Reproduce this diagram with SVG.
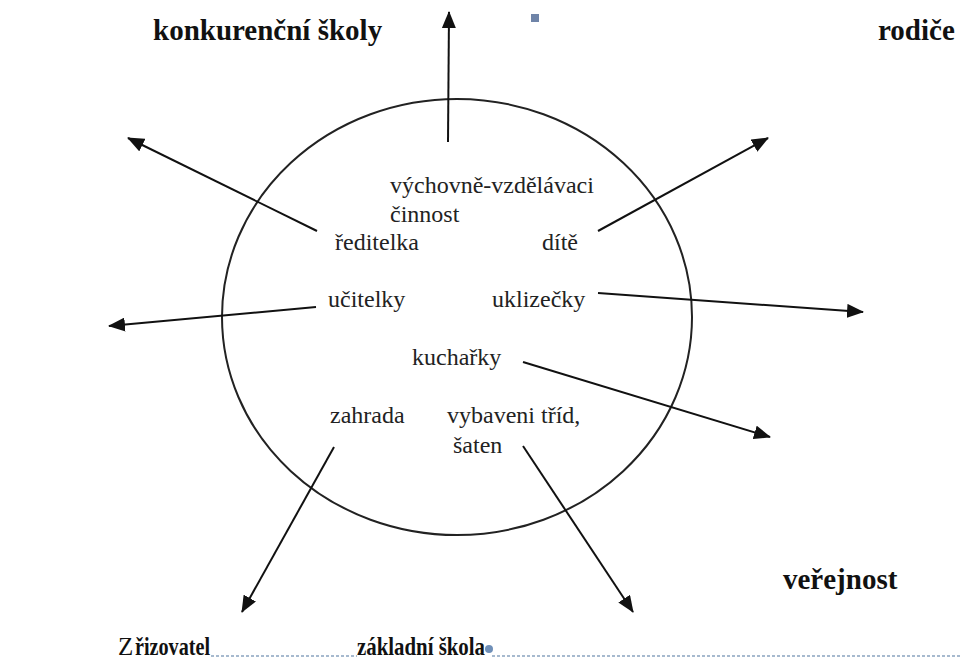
<svg xmlns="http://www.w3.org/2000/svg" width="960" height="659" viewBox="0 0 960 659">
<style>
.bold{font-family:"Liberation Serif","Times New Roman",serif;font-weight:bold;font-size:29px;fill:#111}
.bot{font-family:"Liberation Serif","Times New Roman",serif;font-weight:bold;font-size:25px;fill:#111}
.in{font-family:"Liberation Serif","Times New Roman",serif;font-size:24px;fill:#222}
.conn line{stroke:#111;stroke-width:2;marker-end:url(#ah)}
</style>
<defs>
<marker id="ah" markerWidth="17" markerHeight="14" refX="16" refY="7" orient="auto" markerUnits="userSpaceOnUse" viewBox="0 0 17 14">
<path d="M0,0 L17,7 L0,14 Z" fill="#111"/>
</marker>
</defs>
<rect width="960" height="659" fill="#fff"/>
<g id="circle"><ellipse cx="457" cy="317" rx="235" ry="218" fill="none" stroke="#222" stroke-width="2"/></g>
<g class="conn" id="connectors">
<line x1="448" y1="142" x2="449" y2="12"/>
<line x1="317" y1="231" x2="128" y2="138"/>
<line x1="316" y1="307" x2="109" y2="326"/>
<line x1="598" y1="231" x2="768" y2="138"/>
<line x1="598" y1="293" x2="863" y2="312"/>
<line x1="523" y1="362" x2="770" y2="437"/>
<line x1="334" y1="447" x2="242" y2="612"/>
<line x1="523" y1="446" x2="633" y2="612"/>
</g>
<g id="n-konkurencni"><text class="bold" x="153" y="40">konkurenční školy</text></g>
<g id="n-rodice"><text class="bold" x="878" y="40">rodiče</text></g>
<g id="n-verejnost"><text class="bold" x="783" y="589">veřejnost</text></g>
<g id="n-zrizovatel"><text x="118" y="655" style="font-family:'Liberation Serif',serif;font-size:25px;fill:#111">Z</text><text class="bot" x="135" y="655" textLength="75" lengthAdjust="spacingAndGlyphs">řizovatel</text></g>
<g id="n-zakladni"><text class="bot" x="357" y="655" textLength="128" lengthAdjust="spacingAndGlyphs">základní škola</text></g>
<g id="marks">
<line x1="211" y1="656" x2="357" y2="656" stroke="#8aa4c0" stroke-width="1.5" stroke-dasharray="3,2"/>
<line x1="492" y1="656" x2="960" y2="656" stroke="#8aa4c0" stroke-width="1.5" stroke-dasharray="3,2"/>
<circle cx="489" cy="649" r="4" fill="#6f8fb8"/>
<rect x="531" y="14" width="8" height="8" fill="#6f84a8"/>
</g>
<g id="n-vychovne"><text class="in" x="390" y="193">výchovně-vzdělávaci</text><text class="in" x="390" y="222">činnost</text></g>
<g id="n-reditelka"><text class="in" x="335" y="250">ředitelka</text></g>
<g id="n-dite"><text class="in" x="542" y="250">dítě</text></g>
<g id="n-ucitelky"><text class="in" x="328" y="307">učitelky</text></g>
<g id="n-uklizecky"><text class="in" x="492" y="307">uklizečky</text></g>
<g id="n-kucharky"><text class="in" x="412" y="365">kuchařky</text></g>
<g id="n-zahrada"><text class="in" x="330" y="423">zahrada</text></g>
<g id="n-vybaveni"><text class="in" x="447" y="423">vybaveni tříd,</text><text class="in" x="453" y="453">šaten</text></g>
</svg>
